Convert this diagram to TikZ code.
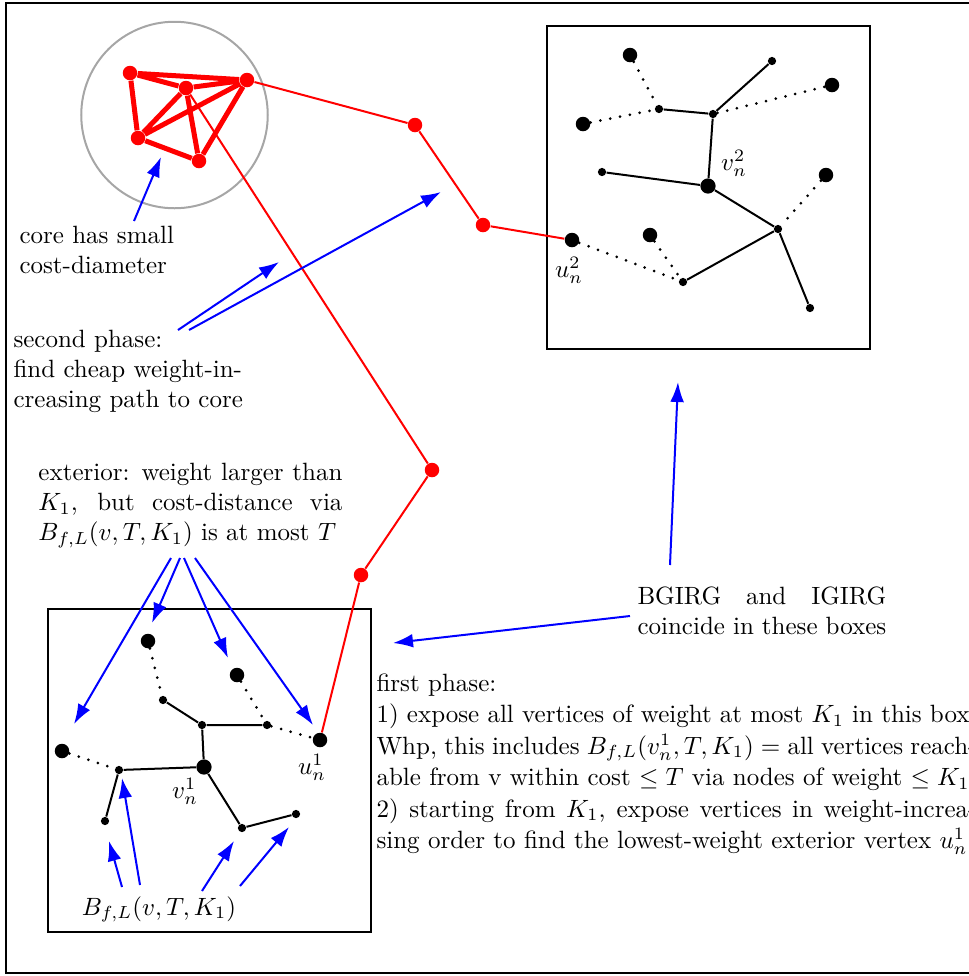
\documentclass[tikz,border=0pt]{standalone}
\usetikzlibrary{arrows.meta}
\begin{document}
\begin{tikzpicture}[x=0.4pt,y=-0.4pt,
  bigdot/.style={circle,fill=black,inner sep=0pt,minimum size=5.8pt},
  vdot/.style={circle,fill=black,inner sep=0pt,minimum size=6.1pt},
  smalldot/.style={circle,fill=black,inner sep=0pt,minimum size=3.3pt},
  reddot/.style={circle,fill=red,inner sep=0pt,minimum size=5.8pt},
  tree/.style={line width=0.8pt},
  dots/.style={line width=1.2pt,dash pattern=on 0pt off 4pt,line cap=round},
  corelink/.style={red,line width=2pt},
  redpath/.style={red,line width=0.8pt},
  arr/.style={blue,line width=0.8pt,-{Latex[length=8pt,width=5.5pt]}},
  txt/.style={inner sep=0pt,anchor=north west,font=\fontsize{10}{12}\selectfont},
  lab/.style={inner sep=0pt},
  frame/.style={line width=0.8pt},
]
\useasboundingbox (0,0) rectangle (969,976);
\draw[frame] (6.5,3) rectangle (1000,973);

% core
\node (coreball) [circle,draw=black!35,line width=0.8pt,minimum size=74.6pt,inner sep=0pt] at (174.5,115) {};
\node (cA) [reddot] at (130,73) {};
\node (cB) [reddot] at (186,88) {};
\node (cC) [reddot] at (247,80) {};
\node (cD) [reddot] at (138,138) {};
\node (cE) [reddot] at (199,161) {};
\draw[corelink] (cA)--(cC) (cA)--(cB) (cA)--(cD) (cB)--(cC) (cB)--(cD) (cB)--(cE) (cC)--(cD) (cC)--(cE) (cD)--(cE);

% top right box
\draw[frame] (546.5,25.5) rectangle (870,348.5);
\node (t1) [bigdot] at (630,55) {};
\node (t2) [smalldot] at (772,61) {};
\node (t3) [bigdot] at (832,85) {};
\node (t4) [bigdot] at (583,124) {};
\node (t5) [smalldot] at (659,109) {};
\node (t6) [smalldot] at (713,114) {};
\node (t7) [smalldot] at (602,172) {};
\node (v2) [vdot] at (708,186) {};
\node (t9) [bigdot] at (826,175) {};
\node (t10) [smalldot] at (778,229) {};
\node (t11) [bigdot] at (650,235) {};
\node (u2) [bigdot] at (572,240) {};
\node (t13) [smalldot] at (683,282) {};
\node (t14) [smalldot] at (810,308) {};
\draw[tree] (t5)--(t6) (t6)--(t2) (t6)--(v2) (t7)--(v2) (v2)--(t10) (t10)--(t13) (t10)--(t14);
\draw[dots] (t1)--(t5) (t4)--(t5) (t6)--(t3) (t9)--(t10) (t11)--(t13) (u2)--(t13);
\node (v2lab) [lab] at (734,163) {$v_n^2$};
\node (u2lab) [lab] at (569,270) {$u_n^2$};

% bottom left box
\draw[frame] (47.5,609) rectangle (371,932);
\node (b1) [bigdot] at (148,641) {};
\node (b2) [bigdot] at (237,675) {};
\node (b3) [smalldot] at (163,700) {};
\node (b4) [smalldot] at (202,725) {};
\node (b5) [smalldot] at (267,725) {};
\node (u1) [bigdot] at (320,740) {};
\node (b7) [bigdot] at (62,751) {};
\node (b8) [smalldot] at (119,770) {};
\node (v1) [vdot] at (204,767) {};
\node (b10) [smalldot] at (105,821) {};
\node (b11) [smalldot] at (242,828) {};
\node (b12) [smalldot] at (296,814) {};
\draw[tree] (b3)--(b4) (b4)--(b5) (b4)--(v1) (b8)--(v1) (b8)--(b10) (v1)--(b11) (b11)--(b12);
\draw[dots] (b1)--(b3) (b2)--(b5) (b5)--(u1) (b7)--(b8);
\node (v1lab) [lab] at (185,791) {$v_n^1$};
\node (u1lab) [lab] at (312,767) {$u_n^1$};
\node (blab) [lab,anchor=base] at (159,915) {$B_{f,L}(v,T,K_1)$};

% red path
\node (r1) [reddot] at (415,125) {};
\node (r2) [reddot] at (483,225) {};
\node (r3) [reddot] at (432,470) {};
\node (r4) [reddot] at (361,575) {};
\draw[redpath] (cC)--(r1)--(r2)--(u2);
\draw[redpath] (cB)--(r3)--(r4)--(u1);

% texts
\node (coretxt) [txt,align=left] at (19,226) {core has small\\cost-diameter};
\node (secondtxt) [txt,align=left] at (13,330) {second phase:\\find cheap weight-in-\\creasing path to core};
\node (exttxt) [txt,text width=121.6pt,align=justify] at (38,463)
  {exterior: weight larger than\linebreak $K_1$, but cost-distance via\linebreak $B_{f,L}(v,T,K_1)$ is at most $T$};
\node (bgtxt) [txt,text width=99.5pt,align=justify] at (637,586)
  {BGIRG and IGIRG\linebreak coincide in these boxes};
\node (firsttxt) [txt,text width=240pt,align=justify,font=\fontsize{10}{12.6}\selectfont] at (376,673)
  {first phase:\\
   1) expose all vertices of weight at most $K_1$ in this box.\linebreak
   Whp, this includes $B_{f,L}(v_n^1,T,K_1) =$ all vertices reach-\linebreak
   able from v within cost $\leq T$ via nodes of weight $\leq K_1$.\linebreak
   2) starting from $K_1$, expose vertices in weight-increa-\linebreak
   sing order to find the lowest-weight exterior vertex $u_n^1$.};

% arrow endpoints
\coordinate (a1s) at (134,221); \coordinate (a1e) at (161,157);
\coordinate (a2s) at (178,330); \coordinate (a2e) at (279,262);
\coordinate (a3s) at (189,330); \coordinate (a3e) at (441,192);
\coordinate (a4s) at (171,558); \coordinate (a4e) at (74,724);
\coordinate (a5s) at (180,558); \coordinate (a5e) at (152,623);
\coordinate (a6s) at (184,558); \coordinate (a6e) at (228,658);
\coordinate (a7s) at (195,558); \coordinate (a7e) at (313,725);
\coordinate (a8s) at (670,565); \coordinate (a8e) at (678,382);
\coordinate (a9s) at (630,616); \coordinate (a9e) at (393,643);
\coordinate (a10s) at (122,887); \coordinate (a10e) at (109,841);
\coordinate (a11s) at (140,885); \coordinate (a11e) at (122,778);
\coordinate (a12s) at (202,891); \coordinate (a12e) at (234,841);
\coordinate (a13s) at (240,886); \coordinate (a13e) at (289,827);
\foreach \i in {1,...,13} {\draw[arr] (a\i s)--(a\i e);}
\end{tikzpicture}
\end{document}
